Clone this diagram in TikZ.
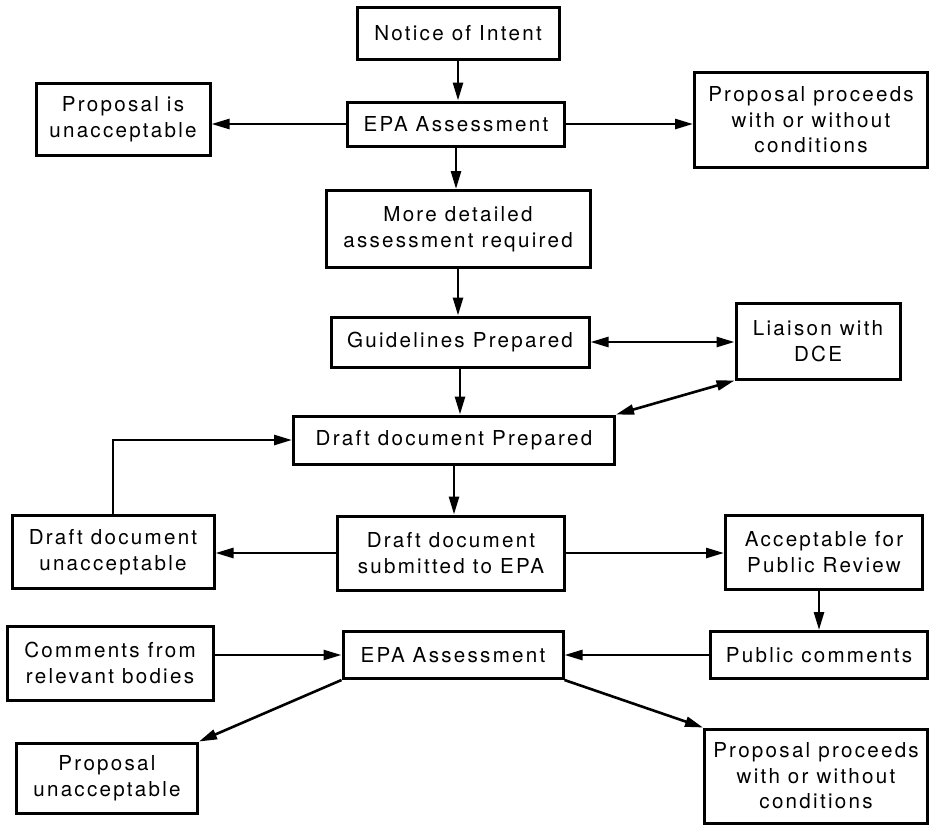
\documentclass[tikz,border=0pt]{standalone}
\usepackage{fontspec}
\setmainfont{TeX Gyre Heros}[LetterSpace=11]
\usetikzlibrary{arrows.meta}

\begin{document}
\begin{tikzpicture}  % ------ procedure d'evaluation EPA -------------------
      [x=0.5pt,y=-0.5pt,
       boite/.style={draw,line width=1.5pt,align=center,inner sep=0pt,
                     font=\fontsize{10.3}{12.8}\selectfont},
       taille/.style 2 args={minimum width=#1*0.5pt,minimum height=#2*0.5pt},
       fleche/.style={line width=1.3pt,-{Triangle[length=9pt,width=5pt]}},
       fleches/.style={line width=1.3pt,{Triangle[length=9pt,width=5pt]}-{Triangle[length=9pt,width=5pt]}}]
    \useasboundingbox (0,0) rectangle (930,825);
    % les boites
    \node[boite,taille={202}{52}] (notice) at (458,33) {Notice of Intent};
    \node[boite,taille={217}{44}] (epaA) at (456,124) {EPA Assessment};
    \node[boite,taille={174}{72}] (unaccA) at (123,119) {Proposal is\\unacceptable};
    \node[boite,taille={233}{95}] (proceedA) at (811,120) {Proposal proceeds\\with or without\\conditions};
    \node[boite,taille={264}{77}] (detail) at (458,229) {More detailed\\assessment required};
    \node[boite,taille={258}{50}] (guide) at (460,342) {Guidelines Prepared};
    \node[boite,taille={164}{76}] (liaison) at (818,341) {Liaison with\\DCE};
    \node[boite,taille={321}{48}] (draft) at (454,440) {Draft document Prepared};
    \node[boite,taille={202}{73}] (draftNo) at (113,552) {Draft document\\unacceptable};
    \node[boite,taille={227}{74}] (submit) at (451,553) {Draft document\\submitted to EPA};
    \node[boite,taille={197}{74}] (accept) at (824,552) {Acceptable for\\Public Review};
    \node[boite,taille={206}{74}] (comments) at (110,663) {Comments from\\relevant bodies};
    \node[boite,taille={220}{47}] (epaB) at (453,655) {EPA Assessment};
    \node[boite,taille={217}{47}] (public) at (819,655) {Public comments};
    \node[boite,taille={181}{70}] (unaccB) at (107,778) {Proposal\\unacceptable};
    \node[boite,taille={223}{94}] (proceedB) at (816,776) {Proposal proceeds\\with or without\\conditions};
    % les fleches
    \draw[fleche] (notice.south) -- (notice.south |- epaA.north);
    \draw[fleche] (epaA.west) -- (unaccA.east |- epaA.west);
    \draw[fleche] (epaA.east) -- (proceedA.west |- epaA.east);
    \draw[fleche] (epaA.south) -- (epaA.south |- detail.north);
    \draw[fleche] (detail.south) -- (detail.south |- guide.north);
    \draw[fleches] (guide.east) -- (liaison.west |- guide.east);
    \draw[fleche] (guide.south) -- (guide.south |- draft.north);
    \draw[fleches] (liaison.south west) -- (draft.north east);
    \draw[fleche] (draftNo.north) |- (draft.west);
    \draw[fleche] (draft.south) -- (draft.south |- submit.north);
    \draw[fleche] (submit.west) -- (draftNo.east |- submit.west);
    \draw[fleche] (submit.east) -- (accept.west |- submit.east);
    \draw[fleche] (public.north |- accept.south) -- (public.north);
    \draw[fleche] (public.west) -- (epaB.east |- public.west);
    \draw[fleche] (comments.east |- epaB.west) -- (epaB.west);
    \draw[fleche] (epaB.south west) -- (unaccB.north east);
    \draw[fleche] (epaB.south east) -- (proceedB.north west);
\end{tikzpicture}
\end{document}
